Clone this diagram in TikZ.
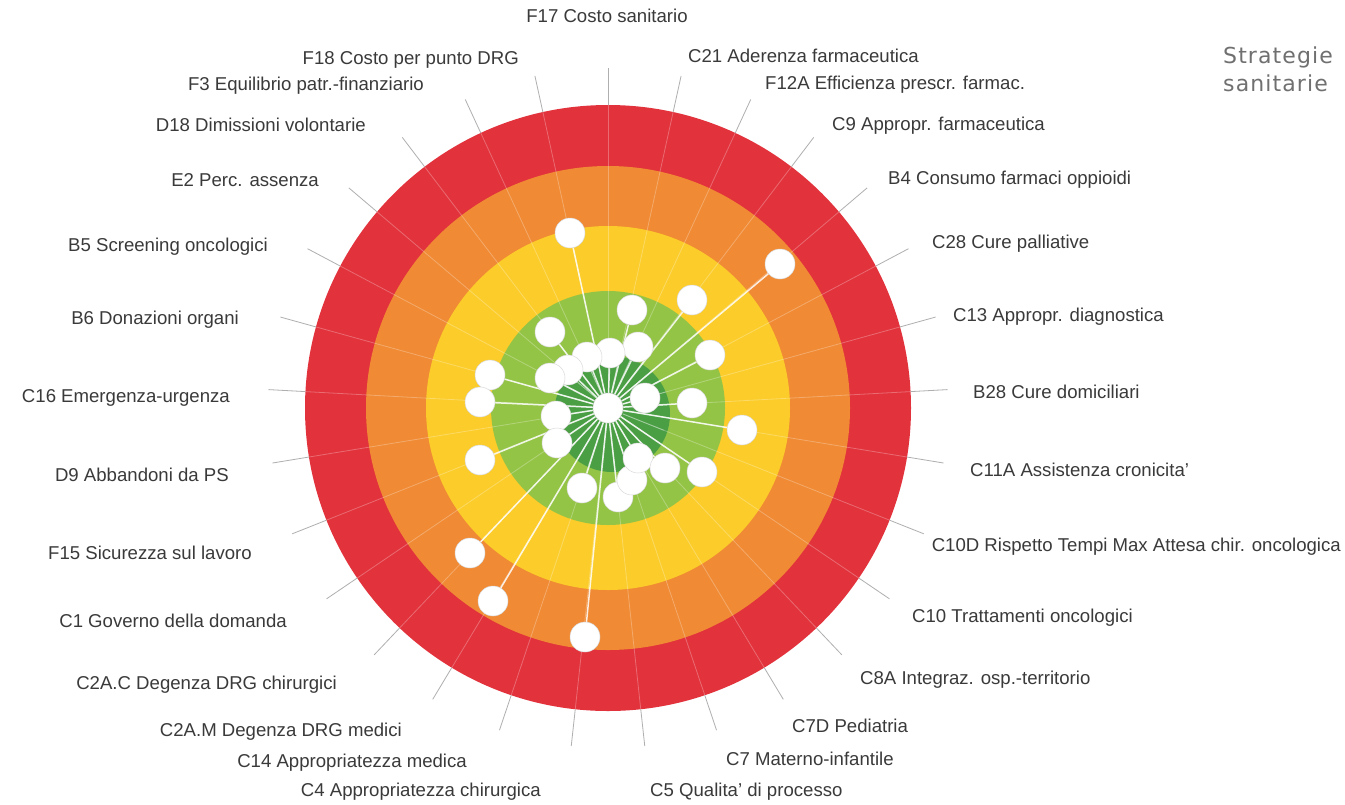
\documentclass[tikz,border=0pt]{standalone}
\usepackage{fontspec}
\setmainfont{Liberation Sans}
\newfontfamily\titlefont[LetterSpace=5]{DejaVu Sans}
\usetikzlibrary{calc}
\definecolor{ringred}{RGB}{226,50,60}
\definecolor{ringorange}{RGB}{240,138,52}
\definecolor{ringyellow}{RGB}{251,204,42}
\definecolor{ringlgreen}{RGB}{148,196,70}
\definecolor{ringdgreen}{RGB}{74,158,68}
\definecolor{labelgray}{RGB}{58,58,58}
\definecolor{tickgray}{RGB}{175,175,175}
\definecolor{titlegray}{RGB}{112,112,112}
\pgfdeclarelayer{bg}
\pgfdeclarelayer{mid}
\pgfsetlayers{bg,mid,main}
\tikzset{
  lab/.style={font=\fontsize{18.6}{22}\selectfont, text=labelgray, inner sep=0pt, text height=13.5pt, text depth=4pt},
  tick/.style={draw=tickgray, line width=0.8pt},
  axisline/.style={draw=white, opacity=0.28, line width=0.8pt},
  sunray/.style={draw=white, opacity=0.5, line width=0.9pt},
  link/.style={draw=white, opacity=0.85, line width=1.5pt},
  dot/.style={circle, fill=white, draw=black!15, line width=0.5pt, minimum size=30pt, inner sep=0pt},
  title/.style={font=\titlefont\fontsize{22}{28}\selectfont, text=titlegray, inner sep=0pt, align=left}
}
\begin{document}
\begin{tikzpicture}[x=1pt,y=-1pt]
\useasboundingbox (0,0) rectangle (1345,804);
\coordinate (c) at (608,408);
\begin{pgfonlayer}{bg}
  \fill[white] (0,0) rectangle (1345,804);
  \fill[ringred] (c) circle[radius=303pt];
  \fill[ringorange] (c) circle[radius=242pt];
  \fill[ringyellow] (c) circle[radius=182pt];
  \fill[ringlgreen] (c) circle[radius=117pt];
  \fill[ringdgreen] (612,414) circle[radius=58pt];
  \foreach \k in {0,...,28}{
    \pgfmathsetmacro\a{-90+\k*360/29}
    \coordinate (ai\k) at ($(c)+(\a:16)$);
    \coordinate (ag\k) at ($(c)+(\a:60)$);
    \coordinate (ao\k) at ($(c)+(\a:303)$);
    \coordinate (to\k) at ($(c)+(\a:340)$);
    \draw[axisline] (ag\k) -- (ao\k);
    \draw[sunray] (ai\k) -- (ag\k);
    \draw[tick] (ao\k) -- (to\k);
  }
\end{pgfonlayer}

% labels
\node[lab] (L0) at (607,18) {F17 Costo sanitario};
\node[lab, anchor=west] (L1) at (688,58) {C21 Aderenza farmaceutica};
\node[lab, anchor=west] (L2) at (765,85) {F12A Efficienza prescr. farmac.};
\node[lab, anchor=west] (L3) at (832,126) {C9 Appropr. farmaceutica};
\node[lab, anchor=west] (L4) at (888,180) {B4 Consumo farmaci oppioidi};
\node[lab, anchor=west] (L5) at (932,244) {C28 Cure palliative};
\node[lab, anchor=west] (L6) at (953,317) {C13 Appropr. diagnostica};
\node[lab, anchor=west] (L7) at (973,394) {B28 Cure domiciliari};
\node[lab, anchor=west] (L8) at (970,472) {C11A Assistenza cronicita'};
\node[lab, anchor=east] (L9) at (1341,547) {C10D Rispetto Tempi Max Attesa chir. oncologica};
\node[lab, anchor=west] (L10) at (912,618) {C10 Trattamenti oncologici};
\node[lab, anchor=west] (L11) at (860,680) {C8A Integraz. osp.-territorio};
\node[lab, anchor=west] (L12) at (792,728) {C7D Pediatria};
\node[lab, anchor=west] (L13) at (726,761) {C7 Materno-infantile};
\node[lab, anchor=west] (L14) at (650,792) {C5 Qualita' di processo};
\node[lab, anchor=east] (L15) at (541,792) {C4 Appropriatezza chirurgica};
\node[lab, anchor=east] (L16) at (467,763) {C14 Appropriatezza medica};
\node[lab, anchor=east] (L17) at (402,732) {C2A.M Degenza DRG medici};
\node[lab, anchor=east] (L18) at (337,685) {C2A.C Degenza DRG chirurgici};
\node[lab, anchor=east] (L19) at (287,623) {C1 Governo della domanda};
\node[lab, anchor=east] (L20) at (252,555) {F15 Sicurezza sul lavoro};
\node[lab, anchor=east] (L21) at (229,477) {D9 Abbandoni da PS};
\node[lab, anchor=east] (L22) at (230,398) {C16 Emergenza-urgenza};
\node[lab, anchor=east] (L23) at (239,320) {B6 Donazioni organi};
\node[lab, anchor=east] (L24) at (268,247) {B5 Screening oncologici};
\node[lab, anchor=east] (L25) at (319,182) {E2 Perc. assenza};
\node[lab, anchor=east] (L26) at (366,127) {D18 Dimissioni volontarie};
\node[lab, anchor=east] (L27) at (424,86) {F3 Equilibrio patr.-finanziario};
\node[lab, anchor=east] (L28) at (519,60) {F18 Costo per punto DRG};

\node[title, anchor=west] (T) at (1223,69) {Strategie\\sanitarie};

% dots
\node[dot] (ctr) at (c) {};
\foreach \n/\x/\y in {1/570/233, 2/780/264, 3/470/553, 4/493/601, 5/585/637,
  6/692/300, 7/632/310, 8/638/347, 9/710/355, 10/610/353, 11/587/357,
  12/568/370, 13/550/378, 14/490/375, 15/480/402, 16/645/398, 17/692/403,
  18/556/416, 19/557/443, 20/742/430, 21/480/460, 22/618/497, 23/632/480,
  24/638/458, 25/665/468, 26/702/472, 27/582/488, 28/550/332}{
  \node[dot] (d\n) at (\x,\y) {};
}
\begin{pgfonlayer}{mid}
  \foreach \n in {1,...,28}{ \draw[link] (ctr) -- (d\n); }
\end{pgfonlayer}
\end{tikzpicture}
\end{document}
